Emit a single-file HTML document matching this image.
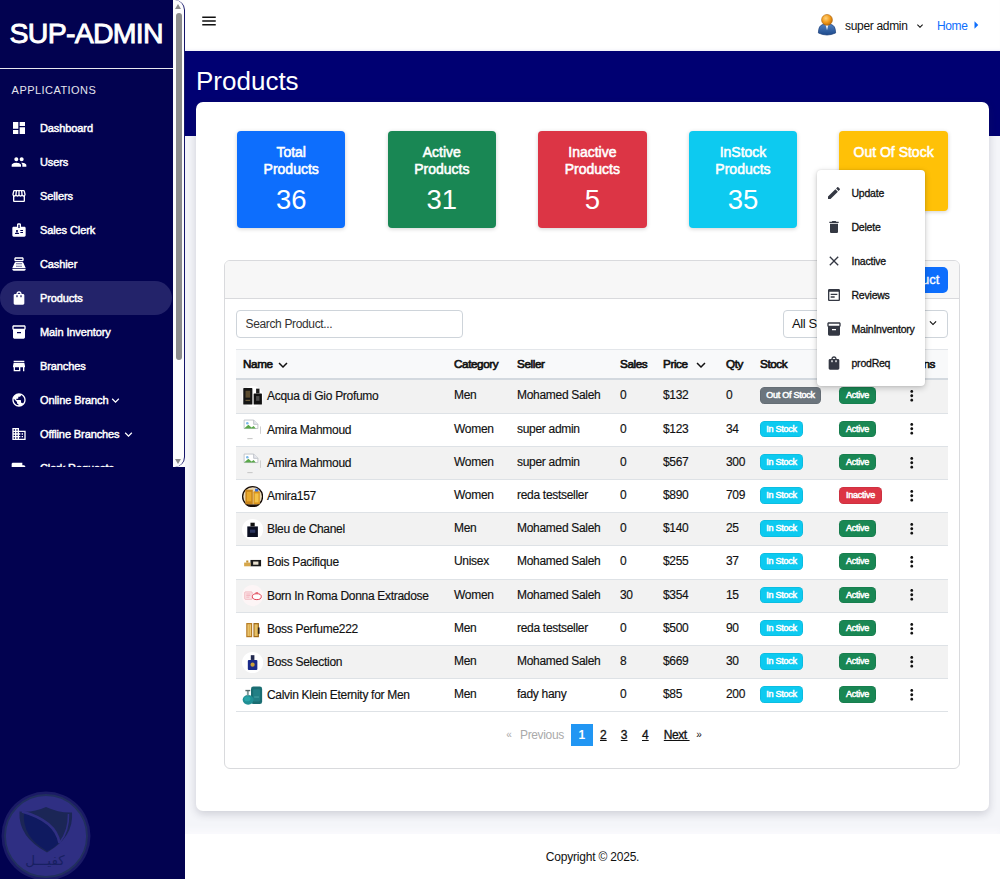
<!DOCTYPE html>
<html lang="en">
<head>
<meta charset="utf-8">
<title>Products</title>
<style>
*{box-sizing:border-box;margin:0;padding:0}
html,body{width:1000px;height:879px;overflow:hidden}
body{font-family:"Liberation Sans",sans-serif;background:#f4f5f9;color:#111;position:relative;font-size:12px}
svg{display:block}
/* ---------- sidebar ---------- */
#side{z-index:5;position:absolute;left:0;top:0;width:185px;height:879px;background:#020250}
#scroll{position:absolute;left:0;top:0;width:173px;height:467px;overflow:hidden}
#brand{position:absolute;left:9.600px;top:15px;font-size:28.5px;font-weight:400;-webkit-text-stroke:.9px #fff;color:#fff;line-height:36px;white-space:nowrap;letter-spacing:-.75px}
#hr{position:absolute;left:0;top:68px;width:173px;height:1px;background:#e8e8f0}
#apps{position:absolute;left:11.600px;top:83px;font-size:11px;line-height:14px;color:#e4e4ee;letter-spacing:.45px}
.mi{position:absolute;left:0;width:172px;height:34px;border-radius:0 17px 17px 0}
.mi.act{background:#23236a;border-radius:17px}
.mi svg{position:absolute;left:11px;top:9px;width:16px;height:16px;fill:#fff}
.mi span{position:absolute;left:40px;top:-.400px;line-height:34px;font-size:11px;font-weight:400;-webkit-text-stroke:.45px #fff;color:#fff;white-space:nowrap;letter-spacing:-.1px}
.mi .chev{left:auto;top:9.500px;width:15px;height:15px}
#sbar{position:absolute;left:172.800px;top:0;width:12px;height:467px;background:#fdfdfd}
#sbar:after{content:'';position:absolute;left:-20px;top:0;width:31.400px;height:467px;border-right:1px solid #15156a;border-radius:0 10px 10px 0}
#sbar .th{position:absolute;left:3.200px;top:12.500px;width:6px;height:347px;background:#8c8c8c;border-radius:3px}
#sbar .up{position:absolute;left:2.700px;top:3.800px;border:3.400px solid transparent;border-top:0;border-bottom:5.200px solid #8c8c8c}
#sbar .dn{position:absolute;left:2.700px;top:458.800px;border:3.400px solid transparent;border-bottom:0;border-top:5.200px solid #8c8c8c}
#wm{position:absolute;left:1px;top:791px}
/* ---------- main ---------- */
#top{position:absolute;left:185px;top:0;width:815px;height:51px;background:#fff;box-shadow:inset 0 -3px 3px -2px rgba(120,120,200,.12)}
#burger{position:absolute;left:14.700px;top:11.500px;width:18px;height:18px;fill:#111}
#band{position:absolute;left:185px;top:51px;width:815px;height:85px;background:#000072}
#title{position:absolute;left:196px;top:63px;font-size:26px;line-height:36px;color:#fff}
#uname{position:absolute;left:845px;top:18px;font-size:12px;line-height:16px;color:#111;letter-spacing:-.32px}
#home{position:absolute;left:937px;top:18px;font-size:12px;line-height:16px;color:#0d6efd;letter-spacing:-.4px}
#card{position:absolute;left:196px;top:102px;width:793px;height:709px;background:#fff;border-radius:7px;box-shadow:0 3px 9px rgba(40,40,70,.19)}
#foot{position:absolute;left:185px;top:834px;width:815px;height:45px;box-shadow:0 -4px 6px #fafafd;letter-spacing:-.2px;background:#fff;text-align:center;font-size:12px;line-height:47px;color:#111}

/* ---------- stats ---------- */
.st{position:absolute;top:131px;width:108.400px;height:97.400px;border-radius:4px;color:#fff;text-align:center;box-shadow:0 1px 4px rgba(0,0,0,.18)}
.stt{margin-top:13px;font-size:14px;line-height:17px;-webkit-text-stroke:.55px #fff}
.stn{font-size:27.500px;line-height:30px;margin-top:6.500px;font-weight:400}
/* ---------- table card ---------- */
#tcard{position:absolute;left:224px;top:259.500px;width:736px;height:509px;border:1px solid #d9dadd;border-radius:6px;background:#fff;overflow:hidden}
#thead{position:absolute;left:0;top:0;width:100%;height:38px;background:#f7f7f7;border-bottom:1px solid #d9dadd}
#addbtn{position:absolute;left:634px;top:6px;width:89px;height:26.500px;border-radius:5px;background:#0d6efd;color:#fff;font-size:13px;line-height:26px;text-align:center;-webkit-text-stroke:.35px #fff}
#search{position:absolute;left:236px;top:310px;width:226.500px;height:28px;border:1px solid #ced4da;border-radius:4px;font-size:12px;line-height:26px;padding-left:8.500px;color:#333;background:#fff;letter-spacing:-.35px}
#sel{position:absolute;left:783px;top:310px;width:165px;height:28px;border:1px solid #ced4da;border-radius:4px;font-size:13px;line-height:26px;padding-left:8px;color:#111;background:#fff;letter-spacing:-.4px}
#sel svg{position:absolute;left:142px;top:5px;width:14px;height:14px;fill:#111}
#tbl{position:absolute;left:236px;top:349px;width:712px;height:364px;font-size:12px}
.hr{position:absolute;left:0;top:0;width:712px;height:31.400px;background:#f8f9fa;border-top:1px solid #e3e6ea;border-bottom:2px solid #d3d9df}
.hr b{position:absolute;top:0;line-height:28.500px;font-weight:400;-webkit-text-stroke:.65px #111;font-size:11.700px;color:#111;white-space:nowrap;letter-spacing:-.4px}
.hc{position:absolute;top:5.500px;width:18px;height:18px;fill:#111}
.c1{left:38px}.c2{left:456px}
.tr{position:absolute;left:0;width:712px;height:33.200px;border-bottom:1px solid #dee2e6;background:#fff}
.tr.odd{background:#f2f2f2}
.tr span{position:absolute;top:0;line-height:31px;white-space:nowrap;color:#111;letter-spacing:-.3px;-webkit-text-stroke:.15px #111}
.tr span.nm{line-height:33px}
.tr em{position:absolute;top:7px;font-style:normal}
.tr .th{position:absolute;left:6.200px;top:5.800px;width:21.200px;height:21.200px}
.bd{display:block;font-style:normal;height:16.500px;line-height:16.500px;padding:0 6px;border-radius:4.500px;color:#fff;font-size:9px;font-weight:400;-webkit-text-stroke:.5px #fff;white-space:nowrap;letter-spacing:-.25px;text-align:center;padding:0;box-shadow:inset 0 0 0 .6px rgba(0,0,0,.12)}
.bd.out{background:#6c757d;width:61px}.bd.ins{background:#0dcaf0;width:43.200px}.bd.act{background:#198754;width:36.800px}.bd.ina{background:#dc3545;width:42.800px}
.dots{position:absolute;left:666.800px;top:6.800px;width:17.500px;height:17.500px;fill:#111}
#pag{position:absolute;left:0;top:723.700px;width:1000px;height:22px;font-size:12px}
#pag span{position:absolute;top:0;line-height:22px;color:#111;white-space:nowrap}
#pag .dis{color:#aaa}
#pag .pl{text-decoration:underline;-webkit-text-stroke:.3px #111}
#pag .sm{font-size:10px;line-height:21px}
#pag .cur{width:21.500px;height:22px;background:#2196f3;color:#fff;text-align:center;font-weight:700}
/* ---------- dropdown ---------- */
#menu{position:absolute;left:817px;top:170px;width:107.500px;height:216px;background:#fff;border-radius:4px;box-shadow:0 2px 6px rgba(0,0,0,.22),0 0 2px rgba(0,0,0,.12)}
#menu .it{position:absolute;left:0;width:107px;height:34px}
#menu .it svg{position:absolute;left:9px;top:9px;width:16px;height:16px;fill:#343843}
#menu .it span{position:absolute;left:34.500px;top:0;line-height:34px;font-size:10.500px;color:#111;-webkit-text-stroke:.3px #111;white-space:nowrap;letter-spacing:-.22px}
</style>
</head>
<body>
<div id="side">
 <div id="scroll">
  <div id="brand">SUP-ADMIN</div>
  <div id="hr"></div>
  <div id="apps">APPLICATIONS</div>
  <div class="mi" style="top:111px"><svg viewBox="0 0 24 24"><path d="M3 13h8V3H3v10zm0 8h8v-6H3v6zm10 0h8V11h-8v10zm0-18v6h8V3h-8z"/></svg><span>Dashboard</span></div>
  <div class="mi" style="top:145px"><svg viewBox="0 0 24 24"><path d="M16 11c1.660 0 2.990-1.340 2.990-3S17.660 5 16 5c-1.660 0-3 1.340-3 3s1.340 3 3 3zm-8 0c1.660 0 2.990-1.340 2.990-3S9.660 5 8 5C6.340 5 5 6.340 5 8s1.340 3 3 3zm0 2c-2.330 0-7 1.170-7 3.500V19h14v-2.500c0-2.330-4.670-3.500-7-3.500zm8 0c-.29 0-.62.020-.97.050 1.160.84 1.970 1.970 1.970 3.450V19h6v-2.500c0-2.330-4.670-3.500-7-3.500z"/></svg><span>Users</span></div>
  <div class="mi" style="top:179px"><svg viewBox="0 0 24 24"><path d="M21.900 8.890l-1.050-4.370c-.22-.9-1-1.520-1.910-1.520H5.050c-.9 0-1.690.63-1.900 1.520L2.100 8.890c-.24 1.020-.02 2.060.62 2.880.08.110.19.190.28.290V19c0 1.100.9 2 2 2h14c1.100 0 2-.9 2-2v-6.940c.09-.09.2-.18.280-.28.640-.82.870-1.870.620-2.890zm-2.990-3.900l1.050 4.370c.1.420.01.840-.25 1.170-.14.180-.44.470-.94.470-.61 0-1.140-.49-1.210-1.140L16.980 5l1.930-.01zM13 5h1.960l.54 4.520c.05.390-.07.780-.33 1.070-.22.260-.54.410-.95.410-.67 0-1.220-.59-1.220-1.310V5zM8.490 9.520L9.040 5H11v4.690c0 .72-.55 1.310-1.290 1.310-.34 0-.65-.15-.89-.41-.25-.29-.37-.68-.33-1.070zm-4.450-.16L5.050 5h1.970l-.58 4.860c-.08.650-.6 1.140-1.210 1.140-.49 0-.8-.29-.93-.47-.27-.32-.36-.75-.26-1.170zM5 19v-6.030c.08.010.15.030.23.030.87 0 1.660-.36 2.240-.95.600.6 1.400.95 2.310.95.870 0 1.650-.36 2.230-.93.590.57 1.390.93 2.290.93.840 0 1.640-.35 2.240-.95.580.59 1.370.95 2.240.95.080 0 .15-.02.230-.03V19H5z"/></svg><span>Sellers</span></div>
  <div class="mi" style="top:213px"><svg viewBox="0 0 24 24"><path d="M20 7h-5V4c0-1.100-.9-2-2-2h-2c-1.100 0-2 .9-2 2v3H4c-1.100 0-2 .9-2 2v11c0 1.100.9 2 2 2h16c1.100 0 2-.9 2-2V9c0-1.100-.9-2-2-2zM9 12c.83 0 1.500.67 1.500 1.500S9.830 15 9 15s-1.500-.67-1.500-1.500S8.170 12 9 12zm3 6H6v-.75c0-1 2-1.500 3-1.500s3 .5 3 1.500V18zm1-9h-2V4h2v5zm5 7.500h-4V15h4v1.500zm0-3h-4V12h4v1.500z"/></svg><span>Sales Clerk</span></div>
  <div class="mi" style="top:247px"><svg viewBox="0 0 24 24"><path d="M17 2H7c-1.100 0-2 .9-2 2v2c0 1.100.9 2 2 2h10c1.100 0 2-.9 2-2V4c0-1.100-.9-2-2-2zm0 4H7V4h10v2zm3 16H4c-1.100 0-2-.9-2-2v-1h20v1c0 1.100-.9 2-2 2zm-1.470-11.810C18.210 9.470 17.490 9 16.700 9H7.300c-.79 0-1.510.47-1.830 1.190L2 18h20l-3.470-7.810zM9.500 16h-1c-.28 0-.5-.22-.5-.5s.22-.5.5-.5h1c.28 0 .5.22.5.5s-.22.5-.5.500zm0-2h-1c-.28 0-.5-.22-.5-.5s.22-.5.5-.5h1c.28 0 .5.22.5.5s-.22.5-.5.500zm0-2h-1c-.28 0-.5-.22-.5-.5s.22-.5.5-.5h1c.28 0 .5.22.5.5s-.22.5-.5.500zm3 4h-1c-.28 0-.5-.22-.5-.5s.22-.5.5-.5h1c.28 0 .5.22.5.5s-.22.5-.5.500zm0-2h-1c-.28 0-.5-.22-.5-.5s.22-.5.5-.5h1c.28 0 .5.22.5.5s-.22.5-.5.500zm0-2h-1c-.28 0-.5-.22-.5-.5s.22-.5.5-.5h1c.28 0 .5.22.5.5s-.22.5-.5.500zm3 4h-1c-.28 0-.5-.22-.5-.5s.22-.5.5-.5h1c.28 0 .5.22.5.5s-.22.5-.5.500zm0-2h-1c-.28 0-.5-.22-.5-.5s.22-.5.5-.5h1c.28 0 .5.22.5.5s-.22.5-.5.500zm0-2h-1c-.28 0-.5-.22-.5-.5s.22-.5.5-.5h1c.28 0 .5.22.5.5s-.22.5-.5.500z"/></svg><span>Cashier</span></div>
  <div class="mi act" style="top:281px"><svg viewBox="0 0 24 24"><path d="M18 6h-2c0-2.210-1.790-4-4-4S8 3.790 8 6H6c-1.100 0-2 .9-2 2v12c0 1.100.9 2 2 2h12c1.100 0 2-.9 2-2V8c0-1.100-.9-2-2-2zm-8 4c0 .55-.45 1-1 1s-1-.45-1-1V8h2v2zm2-6c1.100 0 2 .9 2 2h-4c0-1.100.9-2 2-2zm4 6c0 .55-.45 1-1 1s-1-.45-1-1V8h2v2z"/></svg><span>Products</span></div>
  <div class="mi" style="top:315px"><svg viewBox="0 0 24 24"><path d="M20 2H4c-1 0-2 .9-2 2v3.010c0 .72.430 1.340 1 1.690V20c0 1.100 1.100 2 2 2h14c.9 0 2-.9 2-2V8.700c.570-.35 1-.97 1-1.690V4c0-1.100-1-2-2-2zm-5 12H9v-2h6v2zm5-7H4V4l16-.020V7z"/></svg><span>Main Inventory</span></div>
  <div class="mi" style="top:349px"><svg viewBox="0 0 24 24"><path d="M20 4H4v2h16V4zm1 10v-2l-1-5H4l-1 5v2h1v6h10v-6h4v6h2v-6h1zm-9 4H6v-4h6v4z"/></svg><span>Branches</span></div>
  <div class="mi" style="top:383px"><svg viewBox="0 0 24 24"><path d="M12 2C6.480 2 2 6.480 2 12s4.480 10 10 10 10-4.480 10-10S17.520 2 12 2zm-1 17.930c-3.950-.49-7-3.850-7-7.930 0-.62.080-1.210.210-1.790L9 15v1c0 1.100.9 2 2 2v1.930zm6.900-2.540c-.26-.81-1-1.390-1.900-1.390h-1v-3c0-.55-.45-1-1-1H8v-2h2c.55 0 1-.45 1-1V7h2c1.100 0 2-.9 2-2v-.41c2.930 1.190 5 4.060 5 7.410 0 2.080-.8 3.970-2.100 5.390z"/></svg><span>Online Branch</span><svg class="chev" style="left:108px" viewBox="0 0 24 24"><path d="M16.590 8.590L12 13.170 7.410 8.590 6 10l6 6 6-6z"/></svg></div>
  <div class="mi" style="top:417px"><svg viewBox="0 0 24 24"><path d="M12 7V3H2v18h20V7H12zM6 19H4v-2h2v2zm0-4H4v-2h2v2zm0-4H4V9h2v2zm0-4H4V5h2v2zm4 12H8v-2h2v2zm0-4H8v-2h2v2zm0-4H8V9h2v2zm0-4H8V5h2v2zm10 12h-8v-2h2v-2h-2v-2h2v-2h-2V9h8v10zm-2-8h-2v2h2v-2zm0 4h-2v2h2v-2z"/></svg><span>Offline Branches</span><svg class="chev" style="left:121px" viewBox="0 0 24 24"><path d="M16.590 8.590L12 13.170 7.410 8.590 6 10l6 6 6-6z"/></svg></div>
  <div class="mi" style="top:451px"><svg viewBox="0 0 24 24"><path d="M20 8h-3V4H3c-1.100 0-2 .9-2 2v11h2c0 1.660 1.340 3 3 3s3-1.340 3-3h6c0 1.660 1.340 3 3 3s3-1.340 3-3h2v-5l-3-4z"/></svg><span>Clerk Requests</span></div>
 </div>
 <div id="sbar"><div class="up"></div><div class="th"></div><div class="dn"></div></div>
 <svg id="wm" width="90" height="90" viewBox="0 0 90 90">
  <circle cx="45" cy="45" r="44.500" fill="#1b1b66"/>
  <circle cx="45" cy="45" r="41" fill="#2f2f83" stroke="#212f5e" stroke-width="1.800"/>
  <path d="M18.500 20.500 Q32 22 45 16 Q58 22 71 21.500 Q73 46 46 61.500 Q17 46 18.500 20.500Z" fill="#1b2656"/>
  <path d="M23 22 Q52 30 57.500 52 Q52 58 46 60 Q21 46 23 22Z" fill="#0f1a60"/>
  <path d="M21 20.500 Q55 30 58.500 52" fill="none" stroke="#2f2f83" stroke-width="2.600"/>
  <path d="M67.500 23 Q68 40 58.500 52" fill="none" stroke="#2f2f83" stroke-width="1.600"/>
  <text x="44" y="74" text-anchor="middle" font-family="'DejaVu Sans',sans-serif" font-size="13.500" fill="#182062">كفيـــل</text>
 </svg>
</div>

<div id="top">
 <svg id="burger" viewBox="0 0 24 24"><path d="M3 18h18v-2H3v2zm0-5h18v-2H3v2zm0-7v2h18V6H3z"/></svg>
</div>
<svg id="avatar" width="20" height="23.600" viewBox="0 0 22 26" style="position:absolute;left:817px;top:12.800px">
 <defs>
  <radialGradient id="gh" cx="40%" cy="35%" r="70%"><stop offset="0" stop-color="#ffd27a"/><stop offset=".55" stop-color="#f29a1a"/><stop offset="1" stop-color="#b86a0a"/></radialGradient>
  <linearGradient id="gb" x1="0" y1="0" x2="0" y2="1"><stop offset="0" stop-color="#4f7fc0"/><stop offset="1" stop-color="#1d4a8c"/></linearGradient>
 </defs>
 <path d="M1.500 22 Q1.500 13.500 7 12.500 L15 12.500 Q20.500 13.500 20.500 22 Q11 26.500 1.500 22Z" fill="url(#gb)" stroke="#1a3f7a" stroke-width=".8"/>
 <path d="M9.300 12.500 L11 19 L12.700 12.500Z" fill="#f4f6fa"/>
 <circle cx="11" cy="7.600" r="6" fill="url(#gh)" stroke="#a85f08" stroke-width=".6"/>
</svg>
<div id="uname">super admin</div>
<svg style="position:absolute;left:913.500px;top:19.500px;fill:#111" width="12" height="12" viewBox="0 0 24 24"><path d="M16.590 8.590L12 13.170 7.410 8.590 6 10l6 6 6-6z"/></svg>
<div id="home">Home</div>
<svg style="position:absolute;left:966.500px;top:16.300px;fill:#0d6efd" width="18" height="18" viewBox="0 0 24 24"><path d="M10 17l5-5-5-5v10z"/></svg>
<div id="band"></div>
<div id="title">Products</div>
<div id="card"></div>
<div class="st" style="left:237.0px;background:#0d6efd"><div class="stt">Total<br>Products</div><div class="stn">36</div></div>
<div class="st" style="left:387.6px;background:#198754"><div class="stt">Active<br>Products</div><div class="stn">31</div></div>
<div class="st" style="left:538.2px;background:#dc3545"><div class="stt">Inactive<br>Products</div><div class="stn">5</div></div>
<div class="st" style="left:688.8px;background:#0dcaf0"><div class="stt">InStock<br>Products</div><div class="stn">35</div></div>
<div class="st" style="left:839.4px;background:#ffc107;height:80.400px"><div class="stt">Out Of Stock</div><div class="stn">1</div></div>
<div id="tcard"><div id="thead"></div><div id="addbtn">Add Product</div></div>
<div id="search">Search Product...</div>
<div id="sel">All Status<svg viewBox="0 0 24 24"><path d="M16.590 8.590L12 13.170 7.410 8.590 6 10l6 6 6-6z"/></svg></div>
<div id="tbl">
<div class="hr"><b style="left:7px">Name</b><svg class="hc c1" viewBox="0 0 24 24"><path d="M16.590 8.590L12 13.170 7.410 8.590 6 10l6 6 6-6z"/></svg><b style="left:218px">Category</b><b style="left:281px">Seller</b><b style="left:384px">Sales</b><b style="left:427px">Price</b><svg class="hc c2" viewBox="0 0 24 24"><path d="M16.590 8.590L12 13.170 7.410 8.590 6 10l6 6 6-6z"/></svg><b style="left:490px">Qty</b><b style="left:524px">Stock</b><b style="left:603px">Status</b><b style="left:663.500px">Actions</b></div>
<div class="tr odd" style="top:31.40px"><svg class="th" viewBox="0 0 20 20"><circle cx="10" cy="10" r="10" fill="#fff"/><rect x="1.200" y="2" width="8.600" height="15.500" rx=".6" fill="#151515"/><rect x="3.300" y="4.500" width="4.400" height="6.500" fill="#5c4c30"/><rect x="3.300" y="13" width="4.400" height="1.200" fill="#6a5a3a"/><rect x="11" y="7" width="7.800" height="10.500" rx=".6" fill="#111"/><rect x="13.300" y="2.500" width="3.200" height="4.500" fill="#1c1c1c"/><rect x="13.300" y="9.500" width="3.200" height="4.500" fill="#4a4a4a"/></svg><span class="nm" style="left:31px">Acqua di Gio Profumo</span><span style="left:218px">Men</span><span style="left:281px">Mohamed Saleh</span><span style="left:384px">0</span><span style="left:427px">$132</span><span style="left:490px">0</span><em style="left:524px"><i class="bd out">Out Of Stock</i></em><em style="left:603px"><i class="bd act">Active</i></em><svg class="dots" viewBox="0 0 24 24"><path d="M12 8c1.100 0 2-.9 2-2s-.9-2-2-2-2 .9-2 2 .9 2 2 2zm0 2c-1.100 0-2 .9-2 2s.9 2 2 2 2-.9 2-2-.9-2-2-2zm0 6c-1.100 0-2 .9-2 2s.9 2 2 2 2-.9 2-2-.9-2-2-2z"/></svg></div>
<div class="tr" style="top:64.60px"><svg class="th" viewBox="0 0 20 20"><path d="M2 1 H11 L15 5 V9 H2Z" fill="#fff" stroke="#b8bcc4" stroke-width=".8"/><path d="M11 1 V5 H15" fill="#e6e8ee" stroke="#b8bcc4" stroke-width=".8"/><path d="M2 9 L6 5.500 L9 8 L11 6.500 L13 9Z" fill="#5aa84a"/><circle cx="5" cy="4" r="1.200" fill="#7ab6e8"/><rect x="5" y="18" width="5" height="1" fill="#c8c8c8"/><rect x="17" y="7" width=".8" height="7" fill="#c8c8c8"/></svg><span class="nm" style="left:31px">Amira Mahmoud</span><span style="left:218px">Women</span><span style="left:281px">super admin</span><span style="left:384px">0</span><span style="left:427px">$123</span><span style="left:490px">34</span><em style="left:524px"><i class="bd ins">In Stock</i></em><em style="left:603px"><i class="bd act">Active</i></em><svg class="dots" viewBox="0 0 24 24"><path d="M12 8c1.100 0 2-.9 2-2s-.9-2-2-2-2 .9-2 2 .9 2 2 2zm0 2c-1.100 0-2 .9-2 2s.9 2 2 2 2-.9 2-2-.9-2-2-2zm0 6c-1.100 0-2 .9-2 2s.9 2 2 2 2-.9 2-2-.9-2-2-2z"/></svg></div>
<div class="tr odd" style="top:97.80px"><svg class="th" viewBox="0 0 20 20"><path d="M2 1 H11 L15 5 V9 H2Z" fill="#fff" stroke="#b8bcc4" stroke-width=".8"/><path d="M11 1 V5 H15" fill="#e6e8ee" stroke="#b8bcc4" stroke-width=".8"/><path d="M2 9 L6 5.500 L9 8 L11 6.500 L13 9Z" fill="#5aa84a"/><circle cx="5" cy="4" r="1.200" fill="#7ab6e8"/><rect x="5" y="18" width="5" height="1" fill="#c8c8c8"/><rect x="17" y="7" width=".8" height="7" fill="#c8c8c8"/></svg><span class="nm" style="left:31px">Amira Mahmoud</span><span style="left:218px">Women</span><span style="left:281px">super admin</span><span style="left:384px">0</span><span style="left:427px">$567</span><span style="left:490px">300</span><em style="left:524px"><i class="bd ins">In Stock</i></em><em style="left:603px"><i class="bd act">Active</i></em><svg class="dots" viewBox="0 0 24 24"><path d="M12 8c1.100 0 2-.9 2-2s-.9-2-2-2-2 .9-2 2 .9 2 2 2zm0 2c-1.100 0-2 .9-2 2s.9 2 2 2 2-.9 2-2-.9-2-2-2zm0 6c-1.100 0-2 .9-2 2s.9 2 2 2 2-.9 2-2-.9-2-2-2z"/></svg></div>
<div class="tr" style="top:131.00px"><svg class="th" viewBox="0 0 20 20"><circle cx="10" cy="10" r="9.400" fill="#e9d9b8" stroke="#140a06" stroke-width="1.200"/><rect x="3.200" y="3.500" width="7" height="14" fill="#c9851a"/><rect x="4.600" y="5.500" width="4.200" height="9" fill="#e9a92c"/><rect x="10.800" y="5" width="6" height="12.500" rx=".8" fill="#d9931c"/><rect x="12" y="7" width="3.600" height="8.500" fill="#f2c24a"/><rect x="12.300" y="2.600" width="3" height="2.600" fill="#3a6ad0"/><path d="M3 17.500 H17 L14 19.300 H6Z" fill="#1a0e08"/></svg><span class="nm" style="left:31px">Amira157</span><span style="left:218px">Women</span><span style="left:281px">reda testseller</span><span style="left:384px">0</span><span style="left:427px">$890</span><span style="left:490px">709</span><em style="left:524px"><i class="bd ins">In Stock</i></em><em style="left:603px"><i class="bd ina">Inactive</i></em><svg class="dots" viewBox="0 0 24 24"><path d="M12 8c1.100 0 2-.9 2-2s-.9-2-2-2-2 .9-2 2 .9 2 2 2zm0 2c-1.100 0-2 .9-2 2s.9 2 2 2 2-.9 2-2-.9-2-2-2zm0 6c-1.100 0-2 .9-2 2s.9 2 2 2 2-.9 2-2-.9-2-2-2z"/></svg></div>
<div class="tr odd" style="top:164.20px"><svg class="th" viewBox="0 0 20 20"><circle cx="10" cy="10" r="10" fill="#fff"/><rect x="5" y="7" width="10" height="10" fill="#0b0f22"/><rect x="8" y="3.500" width="4" height="3.500" fill="#111"/><rect x="7.500" y="10" width="5" height="3" fill="#2b3560"/></svg><span class="nm" style="left:31px">Bleu de Chanel</span><span style="left:218px">Men</span><span style="left:281px">Mohamed Saleh</span><span style="left:384px">0</span><span style="left:427px">$140</span><span style="left:490px">25</span><em style="left:524px"><i class="bd ins">In Stock</i></em><em style="left:603px"><i class="bd act">Active</i></em><svg class="dots" viewBox="0 0 24 24"><path d="M12 8c1.100 0 2-.9 2-2s-.9-2-2-2-2 .9-2 2 .9 2 2 2zm0 2c-1.100 0-2 .9-2 2s.9 2 2 2 2-.9 2-2-.9-2-2-2zm0 6c-1.100 0-2 .9-2 2s.9 2 2 2 2-.9 2-2-.9-2-2-2z"/></svg></div>
<div class="tr" style="top:197.40px"><svg class="th" viewBox="0 0 20 20"><circle cx="10" cy="10" r="10" fill="#fff"/><rect x="8" y="7.500" width="10" height="6" fill="#1a1a1a"/><rect x="10.500" y="9" width="5" height="3" fill="#e8e0d0"/><rect x="2" y="10" width="6" height="3.500" fill="#d6a64a"/><rect x="4" y="8" width="2" height="2" fill="#c09030"/></svg><span class="nm" style="left:31px">Bois Pacifique</span><span style="left:218px">Unisex</span><span style="left:281px">Mohamed Saleh</span><span style="left:384px">0</span><span style="left:427px">$255</span><span style="left:490px">37</span><em style="left:524px"><i class="bd ins">In Stock</i></em><em style="left:603px"><i class="bd act">Active</i></em><svg class="dots" viewBox="0 0 24 24"><path d="M12 8c1.100 0 2-.9 2-2s-.9-2-2-2-2 .9-2 2 .9 2 2 2zm0 2c-1.100 0-2 .9-2 2s.9 2 2 2 2-.9 2-2-.9-2-2-2zm0 6c-1.100 0-2 .9-2 2s.9 2 2 2 2-.9 2-2-.9-2-2-2z"/></svg></div>
<div class="tr odd" style="top:230.60px"><svg class="th" viewBox="0 0 20 20"><circle cx="10" cy="10" r="10" fill="#fdf5f6"/><rect x="2.600" y="6.500" width="7" height="7" rx=".6" fill="#fbe4e7" stroke="#efa8b2" stroke-width=".7"/><path d="M4 8.500h4M4 10h4M4 11.500h3" stroke="#ef9aa6" stroke-width=".6"/><ellipse cx="14" cy="11" rx="4.200" ry="2.800" fill="#fff" stroke="#de3a4c" stroke-width=".9"/><rect x="12.800" y="6.800" width="2.400" height="1.800" fill="#e46472"/></svg><span class="nm" style="left:31px">Born In Roma Donna Extradose</span><span style="left:218px">Women</span><span style="left:281px">Mohamed Saleh</span><span style="left:384px">30</span><span style="left:427px">$354</span><span style="left:490px">15</span><em style="left:524px"><i class="bd ins">In Stock</i></em><em style="left:603px"><i class="bd act">Active</i></em><svg class="dots" viewBox="0 0 24 24"><path d="M12 8c1.100 0 2-.9 2-2s-.9-2-2-2-2 .9-2 2 .9 2 2 2zm0 2c-1.100 0-2 .9-2 2s.9 2 2 2 2-.9 2-2-.9-2-2-2zm0 6c-1.100 0-2 .9-2 2s.9 2 2 2 2-.9 2-2-.9-2-2-2z"/></svg></div>
<div class="tr" style="top:263.80px"><svg class="th" viewBox="0 0 20 20"><circle cx="10" cy="10" r="10" fill="#fff"/><rect x="4" y="3.800" width="5.600" height="13.400" fill="#b87c22"/><rect x="5.200" y="5" width="3.200" height="11" fill="#f0d080"/><rect x="6.300" y="5" width="1" height="11" fill="#d9a640"/><rect x="10.800" y="3.800" width="5.200" height="13.400" fill="#a06a18"/><rect x="11.800" y="5" width="3" height="11" fill="#e6c064"/><rect x="15" y="8" width="1.600" height="6" fill="#2a2016"/></svg><span class="nm" style="left:31px">Boss Perfume222</span><span style="left:218px">Men</span><span style="left:281px">reda testseller</span><span style="left:384px">0</span><span style="left:427px">$500</span><span style="left:490px">90</span><em style="left:524px"><i class="bd ins">In Stock</i></em><em style="left:603px"><i class="bd act">Active</i></em><svg class="dots" viewBox="0 0 24 24"><path d="M12 8c1.100 0 2-.9 2-2s-.9-2-2-2-2 .9-2 2 .9 2 2 2zm0 2c-1.100 0-2 .9-2 2s.9 2 2 2 2-.9 2-2-.9-2-2-2zm0 6c-1.100 0-2 .9-2 2s.9 2 2 2 2-.9 2-2-.9-2-2-2z"/></svg></div>
<div class="tr odd" style="top:297.00px"><svg class="th" viewBox="0 0 20 20"><circle cx="10" cy="10" r="10" fill="#fff"/><rect x="5.500" y="7.500" width="9" height="9.500" rx="1" fill="#1a2a8a"/><rect x="8.300" y="3" width="3.400" height="4.500" fill="#222a50"/><circle cx="10" cy="12" r="2" fill="#c9a03a"/></svg><span class="nm" style="left:31px">Boss Selection</span><span style="left:218px">Men</span><span style="left:281px">Mohamed Saleh</span><span style="left:384px">8</span><span style="left:427px">$669</span><span style="left:490px">30</span><em style="left:524px"><i class="bd ins">In Stock</i></em><em style="left:603px"><i class="bd act">Active</i></em><svg class="dots" viewBox="0 0 24 24"><path d="M12 8c1.100 0 2-.9 2-2s-.9-2-2-2-2 .9-2 2 .9 2 2 2zm0 2c-1.100 0-2 .9-2 2s.9 2 2 2 2-.9 2-2-.9-2-2-2zm0 6c-1.100 0-2 .9-2 2s.9 2 2 2 2-.9 2-2-.9-2-2-2z"/></svg></div>
<div class="tr" style="top:330.20px"><svg class="th" viewBox="0 0 20 20"><circle cx="10" cy="10" r="10" fill="#fff"/><rect x="8.500" y="1.500" width="10.500" height="16.500" rx="2.200" fill="#1a6d72"/><rect x="10.500" y="4" width="6.500" height="11.500" rx="1" fill="#217f85"/><rect x="11.500" y="11" width="4.500" height=".7" fill="#5ab0b0"/><ellipse cx="5.800" cy="14" rx="5.200" ry="4.600" fill="#1f8f94"/><ellipse cx="5" cy="13" rx="3" ry="2.400" fill="#2aa5a8"/><rect x="4.600" y="5.500" width="1.800" height="4.500" fill="#7f9a9a"/><rect x="3.200" y="4.600" width="4.600" height="1.300" fill="#566"/></svg><span class="nm" style="left:31px">Calvin Klein Eternity for Men</span><span style="left:218px">Men</span><span style="left:281px">fady hany</span><span style="left:384px">0</span><span style="left:427px">$85</span><span style="left:490px">200</span><em style="left:524px"><i class="bd ins">In Stock</i></em><em style="left:603px"><i class="bd act">Active</i></em><svg class="dots" viewBox="0 0 24 24"><path d="M12 8c1.100 0 2-.9 2-2s-.9-2-2-2-2 .9-2 2 .9 2 2 2zm0 2c-1.100 0-2 .9-2 2s.9 2 2 2 2-.9 2-2-.9-2-2-2zm0 6c-1.100 0-2 .9-2 2s.9 2 2 2 2-.9 2-2-.9-2-2-2z"/></svg></div>
</div>
<div id="pag"><span class="dis sm" style="left:506.200px">«</span><span class="dis" style="left:520px;letter-spacing:-.35px">Previous</span><span class="cur" style="left:571.200px">1</span><span class="pl" style="left:600px">2</span><span class="pl" style="left:620.800px">3</span><span class="pl" style="left:642px">4</span><span class="pl" style="left:663.800px;letter-spacing:-.45px">Next&nbsp;</span>nbsp;</span><span class="sm" style="left:696.200px">»</span></div>

<div id="menu">
<div class="it" style="top:6px"><svg viewBox="0 0 24 24"><path d="M3 17.250V21h3.750L17.810 9.940l-3.750-3.750L3 17.250zM20.710 7.040c.39-.39.39-1.020 0-1.410l-2.340-2.340c-.39-.39-1.020-.39-1.410 0l-1.830 1.830 3.750 3.750 1.830-1.830z"/></svg><span>Update</span></div>
<div class="it" style="top:40px"><svg viewBox="0 0 24 24"><path d="M6 19c0 1.100.9 2 2 2h8c1.100 0 2-.9 2-2V7H6v12zM19 4h-3.500l-1-1h-5l-1 1H5v2h14V4z"/></svg><span>Delete</span></div>
<div class="it" style="top:74px"><svg viewBox="0 0 24 24"><path d="M19 6.410L17.590 5 12 10.590 6.410 5 5 6.410 10.590 12 5 17.590 6.410 19 12 13.410 17.590 19 19 17.590 13.410 12z"/></svg><span>Inactive</span></div>
<div class="it" style="top:108px"><svg viewBox="0 0 24 24"><path d="M19 3H5c-1.100 0-2 .9-2 2v14c0 1.100.9 2 2 2h14c1.100 0 2-.9 2-2V5c0-1.100-.9-2-2-2zm0 16H5V7h14v12zm-2-7H7v-2h10v2zm-4 4H7v-2h6v2z"/></svg><span>Reviews</span></div>
<div class="it" style="top:142px"><svg viewBox="0 0 24 24"><path d="M20 2H4c-1 0-2 .9-2 2v3.010c0 .72.430 1.340 1 1.690V20c0 1.100 1.100 2 2 2h14c.9 0 2-.9 2-2V8.700c.570-.35 1-.97 1-1.690V4c0-1.100-1-2-2-2zm-5 12H9v-2h6v2zm5-7H4V4l16-.020V7z"/></svg><span>MainInventory</span></div>
<div class="it" style="top:176px"><svg viewBox="0 0 24 24"><path d="M18 6h-2c0-2.210-1.790-4-4-4S8 3.790 8 6H6c-1.100 0-2 .9-2 2v12c0 1.100.9 2 2 2h12c1.100 0 2-.9 2-2V8c0-1.100-.9-2-2-2zm-8 4c0 .55-.45 1-1 1s-1-.45-1-1V8h2v2zm2-6c1.100 0 2 .9 2 2h-4c0-1.100.9-2 2-2zm4 6c0 .55-.45 1-1 1s-1-.45-1-1V8h2v2z"/></svg><span>prodReq</span></div>
</div>
<div id="foot">Copyright © 2025.</div>

</body>
</html>
